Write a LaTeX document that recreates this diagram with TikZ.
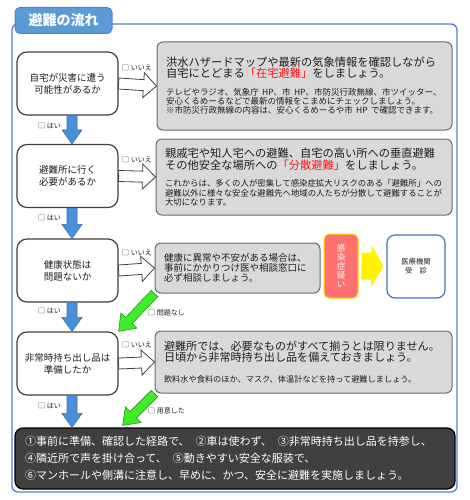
\documentclass[tikz,border=0pt]{standalone}
\usepackage{fontspec}
\setmainfont{Noto Sans CJK JP}
\usetikzlibrary{calc}
\definecolor{framecol}{RGB}{79,129,205}
\definecolor{tabfill}{RGB}{91,155,213}
\definecolor{qline}{RGB}{64,64,64}
\definecolor{gline}{RGB}{105,105,105}
\definecolor{gfill}{RGB}{217,217,217}
\definecolor{txt}{RGB}{30,30,30}
\definecolor{bluefill}{RGB}{74,144,217}
\definecolor{blueline}{RGB}{55,110,180}
\definecolor{greenfill}{RGB}{64,236,40}
\definecolor{greenline}{RGB}{40,150,30}
\definecolor{ksfill}{RGB}{255,112,112}
\definecolor{ksline}{RGB}{255,228,0}
\definecolor{mcline}{RGB}{68,114,196}
\definecolor{fbfill}{RGB}{64,64,64}
\definecolor{alert}{RGB}{255,20,20}
\newcommand{\blockarrow}[6][]{%
  \coordinate (ba-s) at (#2);
  \coordinate (ba-t) at (#3);
  \coordinate (ba-c) at ($(ba-t)!#6!(ba-s)$);
  \draw[#1] ($(ba-s)!#4!90:(ba-t)$) -- ($(ba-c)!#4!90:(ba-t)$)
    -- ($(ba-c)!#5!90:(ba-t)$) -- (ba-t) -- ($(ba-c)!#5!-90:(ba-t)$)
    -- ($(ba-c)!#4!-90:(ba-t)$) -- ($(ba-s)!#4!-90:(ba-t)$) -- cycle;
}

\begin{document}
\begin{tikzpicture}[x=1pt, y=-1pt,
  qbox/.style={shape=rectangle, draw=qline, fill=white, line width=1.2pt, rounded corners=10pt, minimum width=101pt, minimum height=63pt, align=center, text=txt, font=\fontsize{9.5pt}{12pt}\selectfont},
  gbox/.style={shape=rectangle, draw=gline, fill=gfill, line width=1pt, rounded corners=6pt, align=left, inner xsep=9pt, inner ysep=0pt, text=txt},
  lbl/.style={anchor=west, inner sep=0pt, text=txt, font=\fontsize{7pt}{8pt}\selectfont},
  head/.style={font=\fontsize{11.25pt}{11.5pt}\selectfont},
  body/.style={font=\fontsize{8.5pt}{9.2pt}\selectfont},
  warrow/.style={fill=white, draw=qline, line width=0.8pt},
  barrow/.style={fill=bluefill, draw=blueline, line width=0.6pt},
  garrow/.style={fill=greenfill, draw=greenline, line width=0.6pt}]
  \useasboundingbox (0, 0) rectangle (469, 500);
  \draw[draw=framecol, line width=1.3pt, rounded corners=6pt] (12, 24) rectangle (457, 492);
  \node (tab) at (63.5, 20.5) [shape=rectangle, fill=tabfill, draw=framecol, line width=1pt, rounded corners=5pt, minimum width=97pt, minimum height=26pt, text=white, font=\fontsize{14pt}{14pt}\selectfont\bfseries] {避難の流れ};
  \node (q1) at (67.5, 83.5) [qbox] {自宅が災害に遭う\\可能性があるか};
  \node (q2) at (67.5, 176) [qbox] {避難所に行く\\必要があるか};
  \node (q3) at (67.5, 270.5) [qbox] {健康状態は\\問題ないか};
  \node (q4) at (67.5, 363.5) [qbox] {非常時持ち出し品は\\準備したか};
  \node (g1) at (304.5, 86) [gbox, text width=277pt, minimum height=88pt] {{\fontsize{11.25pt}{11pt}\selectfont 洪水ハザードマップや最新の気象情報を確認しながら\\自宅にとどまる{\color{alert}「在宅避難」}をしましょう。\par}\vspace{9pt}{\fontsize{8.5pt}{9pt}\selectfont テレビやラジオ、気象庁~HP、市~HP、市防災行政無線、市ツイッター、\\安心くるめーるなどで最新の情報をこまめにチェックしましょう。\\※市防災行政無線の内容は、安心くるめーるや市~HP~で確認できます。\par}};
  \node (g2) at (304, 177) [gbox, text width=278pt, minimum height=76pt] {{\fontsize{11.25pt}{12pt}\selectfont 親戚宅や知人宅への避難、自宅の高い所への垂直避難\\その他安全な場所への{\color{alert}「分散避難」}をしましょう。\par}\vspace{8pt}{\fontsize{8.4pt}{9.5pt}\selectfont これからは、多くの人が密集して感染症拡大リスクのある「避難所」への\\避難以外に様々な安全な避難先へ地域の人たちが分散して避難することが\\大切になります。\par}};
  \node (g3) at (237.5, 268) [gbox, text width=147pt, minimum height=50pt] {{\fontsize{9.5pt}{10pt}\selectfont 健康に異常や不安がある場合は、\\事前にかかりつけ医や相談窓口に\\必ず相談しましょう。\par}};
  \node (g4) at (303.5, 362) [gbox, text width=279pt, minimum height=62pt] {{\fontsize{11.1pt}{11.5pt}\selectfont 避難所では、必要なものがすべて揃うとは限りません。\\日頃から非常時持ち出し品を備えておきましょう。\par}\vspace{12pt}{\fontsize{8.2pt}{9pt}\selectfont 飲料水や食料のほか、マスク、体温計などを持って避難しましょう。\par}};
  \node (ks) at (341, 266) [shape=rectangle, fill=ksfill, draw=ksline, line width=1pt, rounded corners=5pt, minimum width=34pt, minimum height=64pt, align=center, text=white, font=\fontsize{8.5pt}{9pt}\selectfont] {感\\染\\症\\疑\\い};
  \node (mc) at (416, 266.5) [shape=rectangle, fill=white, draw=mcline, line width=1.2pt, rounded corners=8pt, minimum width=58pt, minimum height=63pt, align=center, text=txt, font=\fontsize{7.3pt}{9pt}\selectfont] {医療機関\\受　診};
  \node (fb) at (235, 458.5) [shape=rectangle, fill=fbfill, draw=black, line width=1.2pt, rounded corners=8pt, text width=420pt, inner xsep=10pt, minimum height=61pt, align=left, text=white, font=\fontsize{11pt}{17pt}\selectfont] {①事前に準備、確認した経路で、\kern6pt②車は使わず、\kern6pt③非常時持ち出し品を持参し、\\④隣近所で声を掛け合って、\kern6pt⑤動きやすい安全な服装で、\\⑥マンホールや側溝に注意し、早めに、かつ、安全に避難を実施しましょう。};
  \node (ny1) at (122, 68) [lbl] {□ いいえ};
  \node (ny2) at (122, 159.5) [lbl] {□ いいえ};
  \node (ny3) at (122, 253) [lbl] {□ いいえ};
  \node (ny4) at (122, 345) [lbl] {□ いいえ};
  \node (yes1) at (38, 126) [lbl] {□ はい};
  \node (yes2) at (38, 218) [lbl] {□ はい};
  \node (yes3) at (38, 311) [lbl] {□ はい};
  \node (yes4) at (38, 406) [lbl] {□ はい};
  \node (ok3) at (148, 313) [lbl] {□ 問題なし};
  \node (ok4) at (148, 411) [lbl] {□ 用意した};
  \blockarrow[warrow]{q1.east}{g1.west}{5.5pt}{12.5pt}{13pt}
  \blockarrow[warrow]{q2.east}{g2.west}{5.5pt}{12.5pt}{13pt}
  \blockarrow[warrow]{q3.east}{g3.west}{5.5pt}{12.5pt}{13pt}
  \blockarrow[warrow]{q4.east}{g4.west}{5.5pt}{12.5pt}{13pt}
  \blockarrow[barrow]{[xshift=4.5pt]q1.south}{[xshift=4.5pt]q2.north}{5pt}{10pt}{14pt}
  \blockarrow[barrow]{[xshift=4.5pt]q2.south}{[xshift=4.5pt]q3.north}{5pt}{10pt}{14pt}
  \blockarrow[barrow]{[xshift=4.5pt]q3.south}{[xshift=4.5pt]q4.north}{5pt}{10pt}{14pt}
  \blockarrow[barrow]{[xshift=4.5pt]q4.south}{$(q4.south |- fb.north)+(4.5,0)$}{5pt}{10pt}{14pt}
  \blockarrow[garrow]{g3.south west}{q4.north east}{4.5pt}{11pt}{15pt}
  \blockarrow[garrow]{g4.south west}{$(q4.east |- fb.north)+(4,-2)$}{4.5pt}{11pt}{15pt}
  \blockarrow[fill=yellow, draw=none]{[xshift=3pt]ks.east}{[xshift=-3pt]mc.west}{13.5pt}{21pt}{12pt}
\end{tikzpicture}
\end{document}
